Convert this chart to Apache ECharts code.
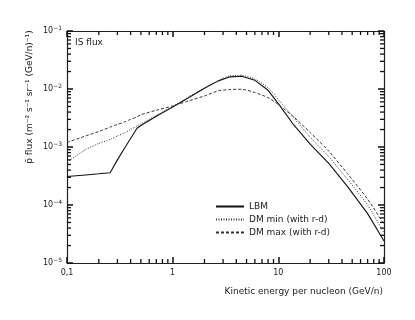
<!DOCTYPE html>
<html>
<head>
<meta charset="utf-8">
<script src="https://cdn.jsdelivr.net/npm/echarts@6/dist/echarts.min.js"></script>
<style>
  html, body { margin: 0; padding: 0; background: #fff; }
  #chart { width: 415px; height: 320px; }
</style>
</head>
<body>
<div id="chart"></div>
<script>
// kinetic energy per nucleon (GeV/n)
const energies = [0.1, 0.15, 0.2, 0.256, 0.3, 0.35, 0.4, 0.46, 0.5, 0.7, 1, 1.4, 2, 2.7, 3.5, 4.5, 6, 8, 10, 14, 20, 30, 45, 70, 100]
// antiproton IS flux (m^-2 s^-1 sr^-1 (GeV/n)^-1)
const lbm = [3.1e-4, 3.3e-4, 3.45e-4, 3.6e-4, 6.0e-4, 9.5e-4, 1.4e-3, 2.1e-3, 2.35e-3, 3.4e-3, 4.9e-3, 7.0e-3, 1.03e-2, 1.38e-2, 1.62e-2, 1.66e-2, 1.41e-2, 9.5e-3, 5.6e-3, 2.4e-3, 1.12e-3, 5.2e-4, 2.1e-4, 7.1e-5, 2.4e-5]
const dmMin = [5.5e-4, 9.0e-4, 1.15e-3, 1.35e-3, 1.55e-3, 1.75e-3, 2.0e-3, 2.3e-3, 2.5e-3, 3.5e-3, 5.0e-3, 7.2e-3, 1.05e-2, 1.4e-2, 1.7e-2, 1.72e-2, 1.48e-2, 1.05e-2, 6.6e-3, 3.2e-3, 1.48e-3, 6.8e-4, 2.8e-4, 1.0e-4, 3.3e-5]
const dmMax = [1.2e-3, 1.55e-3, 1.85e-3, 2.2e-3, 2.45e-3, 2.7e-3, 3.0e-3, 3.3e-3, 3.6e-3, 4.3e-3, 5.1e-3, 6.2e-3, 7.6e-3, 9.3e-3, 9.8e-3, 9.9e-3, 8.7e-3, 7.1e-3, 5.4e-3, 3.3e-3, 1.78e-3, 8.5e-4, 3.5e-4, 1.26e-4, 4.7e-5]
const seriesNames = ['LBM', 'DM min (with r-d)', 'DM max (with r-d)']
const xTickLabels = { 0.1: '0,1', 1: '1', 10: '10', 100: '100' }

const font = 'DejaVu Sans'
const ink = '#222'
const X_MIN = 0.1, X_MAX = 100, Y_MIN = 1e-5, Y_MAX = 1e-1

// minor tick values 2..9 x 10^n inside [lo, hi)
function minorTicks(lo, hi) {
  const out = []
  for (let d = lo; d < hi - 1e-12; d *= 10) {
    for (let k = 2; k <= 9; k++) out.push(+(k * d).toPrecision(3))
  }
  return out
}
const xMinor = minorTicks(X_MIN, X_MAX)
const yMinor = minorTicks(Y_MIN, Y_MAX)

const chart = echarts.init(document.getElementById('chart'))
const pairs = (ys) => energies.map((e, i) => [e, ys[i]])

const lineStyleAxis = { show: true, onZero: false, lineStyle: { color: ink, width: 1.2 } }
const majorTick = { show: true, inside: true, length: 6, lineStyle: { color: '#111', width: 1.5 } }
const MINOR_LEN = 4

// minor ticks drawn inward on both opposite edges, placed through the log axes
function minorTickSeries(values, onX) {
  return {
    type: 'custom',
    silent: true,
    clip: false,
    z: 10,
    data: values.map((v) => (onX ? [v, Y_MIN] : [X_MIN, v])),
    renderItem: function (params, api) {
      const v = api.value(onX ? 0 : 1)
      const a = onX ? api.coord([v, Y_MIN]) : api.coord([X_MIN, v])
      const b = onX ? api.coord([v, Y_MAX]) : api.coord([X_MAX, v])
      const shapes = onX
        ? [
            { x1: a[0], y1: a[1], x2: a[0], y2: a[1] - MINOR_LEN },
            { x1: b[0], y1: b[1], x2: b[0], y2: b[1] + MINOR_LEN },
          ]
        : [
            { x1: a[0], y1: a[1], x2: a[0] + MINOR_LEN, y2: a[1] },
            { x1: b[0], y1: b[1], x2: b[0] - MINOR_LEN, y2: b[1] },
          ]
      return {
        type: 'group',
        children: shapes.map((s) => ({ type: 'line', shape: s, style: { stroke: '#111', lineWidth: 1.3 } })),
      }
    },
  }
}

const option = {
  animation: false,
  grid: { left: 67, right: 31, top: 31, bottom: 57 },
  xAxis: [
    {
      type: 'log', logBase: 10, min: X_MIN, max: X_MAX, position: 'bottom',
      axisLine: lineStyleAxis,
      axisTick: majorTick,
      splitLine: { show: false },
      axisLabel: { fontFamily: font, fontSize: 8, color: ink, margin: 6, formatter: (v) => xTickLabels[v] || '' },
      name: 'Kinetic energy per nucleon (GeV/n)', nameLocation: 'end', nameGap: -1,
      nameTextStyle: { fontFamily: font, fontSize: 9, color: ink, align: 'right', verticalAlign: 'top', padding: [24, 0, 0, 0] },
    },
    {
      type: 'log', logBase: 10, min: X_MIN, max: X_MAX, position: 'top',
      axisLine: lineStyleAxis,
      axisTick: majorTick,
      axisLabel: { show: false },
      splitLine: { show: false },
    },
  ],
  yAxis: [
    {
      type: 'log', logBase: 10, min: Y_MIN, max: Y_MAX, position: 'left',
      axisLine: lineStyleAxis,
      axisTick: majorTick,
      splitLine: { show: false },
      axisLabel: {
        fontFamily: font, fontSize: 8, color: ink, margin: 5,
        formatter: (v) => '10{s|\u2212' + Math.abs(Math.round(Math.log10(v))) + '}',
        rich: { s: { fontFamily: font, fontSize: 6, color: ink, verticalAlign: 'bottom', padding: [0, 0, 5, 0] } },
      },
    },
    {
      type: 'log', logBase: 10, min: Y_MIN, max: Y_MAX, position: 'right',
      axisLine: lineStyleAxis,
      axisTick: majorTick,
      axisLabel: { show: false },
      splitLine: { show: false },
    },
  ],
  legend: {
    orient: 'vertical', left: 210, top: 197, itemWidth: 28, itemHeight: 8, itemGap: 4,
    itemStyle: { color: 'transparent', borderWidth: 0, opacity: 0 },
    textStyle: { fontFamily: font, fontSize: 9, color: ink },
    data: seriesNames,
  },
  graphic: [
    { type: 'text', left: 75, top: 38, style: { text: 'IS flux', font: '9px "DejaVu Sans"', fill: ink } },
    {
      type: 'text', x: 30, y: 97, rotation: Math.PI / 2,
      style: {
        text: 'p\u0304 flux (m\u207B\u00B2 s\u207B\u00B9 sr\u207B\u00B9 (GeV/n)\u207B\u00B9)',
        font: '9px "DejaVu Sans"', fill: ink, align: 'center', verticalAlign: 'middle',
      },
    },
  ],
  series: [
    { name: seriesNames[0], type: 'line', symbol: 'none', data: pairs(lbm), lineStyle: { color: '#111', width: 1.1 } },
    { name: seriesNames[1], type: 'line', symbol: 'none', smooth: 0.2, data: pairs(dmMin), lineStyle: { color: '#333', width: 1, type: [1, 1.5] } },
    { name: seriesNames[2], type: 'line', symbol: 'none', smooth: 0.2, data: pairs(dmMax), lineStyle: { color: '#333', width: 1, type: [3, 2] } },
    minorTickSeries(xMinor, true),
    minorTickSeries(yMinor, false),
  ],
}

chart.setOption(option)
</script>
</body>
</html>
